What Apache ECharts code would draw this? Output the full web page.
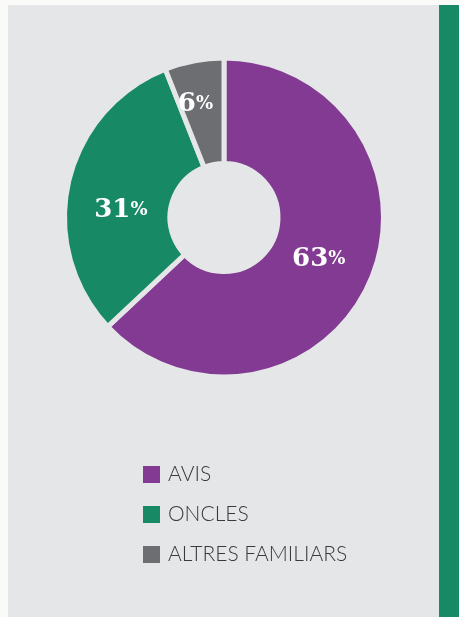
<!DOCTYPE html>
<html>
<head>
<meta charset="utf-8">
<script src="https://cdn.jsdelivr.net/npm/echarts@6/dist/echarts.min.js"></script>
<style>
  html, body { margin: 0; padding: 0; background: #fafaf8; }
  body { width: 459px; height: 617px; position: relative; overflow: hidden; }
  .panel { position: absolute; left: 8px; top: 5px; width: 431px; height: 612px; background: #e5e6e8; }
  .side-bar { position: absolute; left: 439px; top: 5px; width: 20px; height: 612px; background: #178a65; }
  #chartBody { position: absolute; left: 0; top: 0; width: 459px; height: 617px; }
</style>
</head>
<body>
<div class="panel"></div>
<div class="side-bar"></div>
<div id="chartBody"></div>
<script>
  // valors llegits de la imatge
  const categories = ["AVIS", "ONCLES", "ALTRES FAMILIARS"];
  const percentValues = [63, 31, 6];
  const sliceColors = ["#833a93", "#178a65", "#6d6e72"];
  // petits desplaçaments de les etiquetes, com a l'original
  const labelOffsets = [[-6, -2], [4, 17], [-8, -5]];

  const myChart = echarts.init(document.getElementById("chartBody"));

  const data = categories.map((name, index) => {
    return {
      name: name,
      value: percentValues[index],
      itemStyle: { color: sliceColors[index] },
      label: { offset: labelOffsets[index] }
    };
  });

  const chartOption = {
    backgroundColor: "transparent",
    animation: false,
    legend: {
      orient: "vertical",
      left: 141,
      top: 464,
      padding: 0,
      icon: "rect",
      itemWidth: 19,
      itemHeight: 19,
      itemGap: 19,
      selectedMode: false,
      data: categories,
      textStyle: {
        fontFamily: "Lato",
        fontWeight: 300,
        fontSize: 21,
        color: "#3a3a3c",
        padding: [0, 0, 0, 2]
      }
    },
    series: [
      {
        type: "pie",
        center: [224, 217.5],
        radius: [54, 159.5],
        startAngle: 90,
        clockwise: true,
        silent: true,
        itemStyle: {
          borderColor: "#e5e6e8",
          borderWidth: 5
        },
        label: {
          show: true,
          position: "inside",
          formatter: (p) => `{n|${p.value}}{p|%}`,
          rich: {
            n: {
              fontFamily: "DejaVu Serif",
              fontWeight: "bold",
              fontSize: 26,
              color: "#fff"
            },
            p: {
              fontFamily: "DejaVu Serif",
              fontWeight: "bold",
              fontSize: 18,
              color: "#fff"
            }
          }
        },
        labelLine: { show: false },
        data: data
      }
    ]
  };

  myChart.setOption(chartOption);
</script>
</body>
</html>
